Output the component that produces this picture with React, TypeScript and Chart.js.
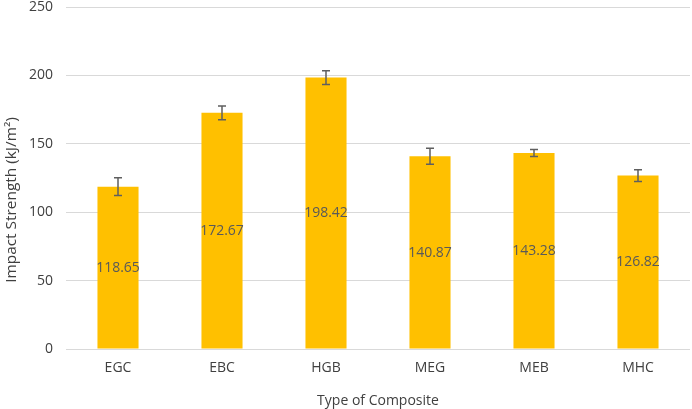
import { useEffect, useRef } from 'react';
import { Chart, registerables } from 'chart.js';
import type { Plugin } from 'chart.js';

Chart.register(...registerables);

const categories = ['EGC', 'EBC', 'HGB', 'MEG', 'MEB', 'MHC'];
const strength = [118.65, 172.67, 198.42, 140.87, 143.28, 126.82];
const errors = [6.5, 5, 5, 5.8, 2.5, 4.3];
const yTicks = [0, 50, 100, 150, 200, 250];
const yTitle = 'Impact Strength (kJ/m²)';

const FONT = "'Open Sans', sans-serif";

// error bars + centred value labels
const barExtras: Plugin<'bar'> = {
  id: 'barExtras',
  afterDatasetsDraw(chart) {
    const { ctx } = chart;
    const meta = chart.getDatasetMeta(0);
    const y = chart.scales.y;
    ctx.save();
    meta.data.forEach((bar, i) => {
      const x = bar.x;
      const top = y.getPixelForValue(strength[i] + errors[i]);
      const bottom = y.getPixelForValue(strength[i] - errors[i]);
      ctx.strokeStyle = '#5f5f5f';
      ctx.lineWidth = 1.5;
      ctx.beginPath();
      ctx.moveTo(x, top);
      ctx.lineTo(x, bottom);
      ctx.moveTo(x - 4, top);
      ctx.lineTo(x + 4, top);
      ctx.moveTo(x - 4, bottom);
      ctx.lineTo(x + 4, bottom);
      ctx.stroke();

      ctx.fillStyle = '#595959';
      ctx.font = `14px ${FONT}`;
      ctx.textAlign = 'center';
      ctx.textBaseline = 'middle';
      ctx.fillText(strength[i].toFixed(2), x, y.getPixelForValue(strength[i] / 2));
    });
    ctx.restore();
  },
};

// y axis title, stretched along its length like the source
const yTitlePlugin: Plugin<'bar'> = {
  id: 'yTitle',
  afterDraw(chart) {
    const { ctx } = chart;
    ctx.save();
    ctx.translate(12, 200);
    ctx.rotate(-Math.PI / 2);
    ctx.scale(1.1, 1);
    ctx.fillStyle = '#404040';
    ctx.font = `14px ${FONT}`;
    ctx.textAlign = 'center';
    ctx.textBaseline = 'middle';
    ctx.fillText(yTitle, 0, 0);
    ctx.restore();
  },
};

export default function App() {
  const canvasRef = useRef<HTMLCanvasElement>(null);
  const chartRef = useRef<Chart | null>(null);

  useEffect(() => {
    if (!canvasRef.current) return;
    if (chartRef.current) chartRef.current.destroy();

    chartRef.current = new Chart(canvasRef.current, {
      type: 'bar',
      data: {
        labels: categories,
        datasets: [
          {
            label: 'Impact Strength',
            data: strength,
            backgroundColor: '#FFC000',
            categoryPercentage: 1,
            barPercentage: 0.395,
          },
        ],
      },
      options: {
        animation: false,
        responsive: true,
        maintainAspectRatio: false,
        layout: { padding: { top: 7, right: 2, left: 0, bottom: 0 } },
        plugins: {
          legend: { display: false },
          tooltip: { enabled: false },
        },
        scales: {
          x: {
            afterFit: (s) => {
              s.height = 60;
            },
            grid: { display: false, drawTicks: false },
            border: { display: false },
            ticks: { color: '#404040', font: { family: FONT, size: 14 }, padding: 11 },
            title: {
              display: true,
              text: 'Type of Composite',
              color: '#404040',
              font: { family: FONT, size: 14 },
              padding: { top: 0, bottom: 0 },
            },
          },
          y: {
            min: 0,
            max: 250,
            afterFit: (s) => {
              s.width = 66;
              s.paddingTop = 0;
              s.paddingBottom = 0;
            },
            afterBuildTicks: (s) => {
              s.ticks = yTicks.map((v) => ({ value: v }));
            },
            grid: { color: '#d9d9d9', drawTicks: false },
            border: { display: false },
            ticks: { color: '#404040', font: { family: FONT, size: 14 }, padding: 13 },
          },
        },
      },
      plugins: [barExtras, yTitlePlugin],
    });

    return () => {
      if (chartRef.current) {
        chartRef.current.destroy();
        chartRef.current = null;
      }
    };
  }, []);

  return (
    <div style={{ position: 'absolute', left: 0, top: 0, width: 692, height: 409, background: '#fff' }}>
      <canvas ref={canvasRef} />
    </div>
  );
}
